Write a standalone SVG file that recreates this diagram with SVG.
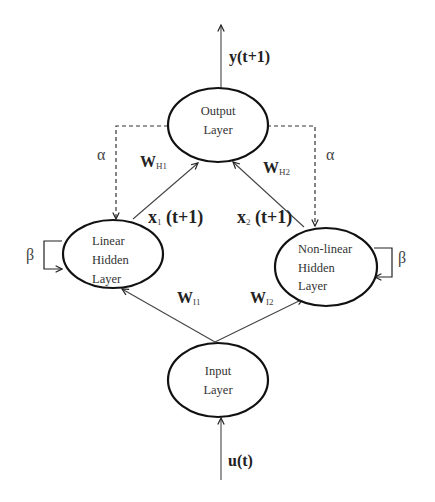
<svg xmlns="http://www.w3.org/2000/svg" width="435" height="502" viewBox="0 0 435 502">
<defs>
<marker id="ah" viewBox="0 0 10 10" refX="9" refY="5" markerWidth="8" markerHeight="8" markerUnits="userSpaceOnUse" orient="auto">
<path d="M1,1 L9,5 L1,9" fill="none" stroke="#222" stroke-width="1.5"/>
</marker>
</defs>
<style>
.node ellipse{fill:#fff;stroke:#111;stroke-width:2.2}
.nt{font-family:"Liberation Serif",serif;font-size:12.5px;fill:#333}
.lb{font-family:"Liberation Serif",serif;font-size:16px;font-weight:bold;fill:#222}
.lx{font-family:"Liberation Serif",serif;font-size:18px;font-weight:bold;fill:#222}
.sb{font-family:"Liberation Serif",serif;font-size:9px;font-weight:normal;fill:#444}
.gr{font-family:"Liberation Serif",serif;font-size:16px;fill:#444}
.ln{fill:none;stroke:#444;stroke-width:1.1}
.ds{fill:none;stroke:#333;stroke-width:1.2;stroke-dasharray:4,3}
.br{fill:none;stroke:#222;stroke-width:1.2}
</style>
<rect width="435" height="502" fill="#fff"/>
<g id="connectors">
<line class="ln" x1="221" y1="88" x2="221" y2="25" marker-end="url(#ah)"/>
<line class="ln" x1="221" y1="480" x2="221" y2="418" marker-end="url(#ah)"/>
<line class="ln" x1="215" y1="342" x2="122" y2="289" marker-end="url(#ah)"/>
<line class="ln" x1="215" y1="342" x2="303" y2="299" marker-end="url(#ah)"/>
<line class="ln" x1="133" y1="219" x2="198" y2="163" marker-end="url(#ah)"/>
<line class="ln" x1="304" y1="227" x2="233" y2="162" marker-end="url(#ah)"/>
<polyline class="ds" points="168,126 116,126 116,219" marker-end="url(#ah)"/>
<polyline class="ds" points="267,126 315,126 315,226" marker-end="url(#ah)"/>
<polyline class="br" points="62,241 44,241 44,269 62,269" marker-end="url(#ah)"/>
<polyline class="br" points="374,248 392,248 392,277 375,277" marker-end="url(#ah)"/>
</g>
<g id="output">
<g class="node"><ellipse cx="218" cy="125" rx="50" ry="37"/></g>
<text class="nt" x="218" y="115" text-anchor="middle">Output</text>
<text class="nt" x="218" y="134" text-anchor="middle">Layer</text>
</g>
<g id="linear">
<g class="node"><ellipse cx="113" cy="254" rx="50" ry="34"/></g>
<text class="nt" x="92" y="245">Linear</text>
<text class="nt" x="92" y="264">Hidden</text>
<text class="nt" x="92" y="283">Layer</text>
</g>
<g id="nonlinear">
<g class="node"><ellipse cx="326" cy="267" rx="51" ry="39"/></g>
<text class="nt" x="298" y="253">Non-linear</text>
<text class="nt" x="298" y="272">Hidden</text>
<text class="nt" x="298" y="290">Layer</text>
</g>
<g id="input">
<g class="node"><ellipse cx="218" cy="380" rx="50" ry="37"/></g>
<text class="nt" x="218" y="375" text-anchor="middle">Input</text>
<text class="nt" x="218" y="394" text-anchor="middle">Layer</text>
</g>
<g id="labels">
<text class="lb" x="229" y="62">y(t+1)</text>
<text class="lb" x="228" y="466">u(t)</text>
<text class="lb" x="140" y="167">W<tspan class="sb" dy="2">H1</tspan></text>
<text class="lb" x="263" y="173">W<tspan class="sb" dy="2">H2</tspan></text>
<text class="lx" x="148" y="223">x<tspan class="sb" dy="2">1</tspan><tspan dy="-2"> (t+1)</tspan></text>
<text class="lx" x="237" y="223">x<tspan class="sb" dy="2">2</tspan><tspan dy="-2"> (t+1)</tspan></text>
<text class="lb" x="177" y="303">W<tspan class="sb" dy="2">I1</tspan></text>
<text class="lb" x="250" y="303">W<tspan class="sb" dy="2">I2</tspan></text>
<text class="gr" x="97" y="160">α</text>
<text class="gr" x="326" y="160">α</text>
<text class="gr" x="26" y="260">β</text>
<text class="gr" x="398" y="263">β</text>
</g>
</svg>
